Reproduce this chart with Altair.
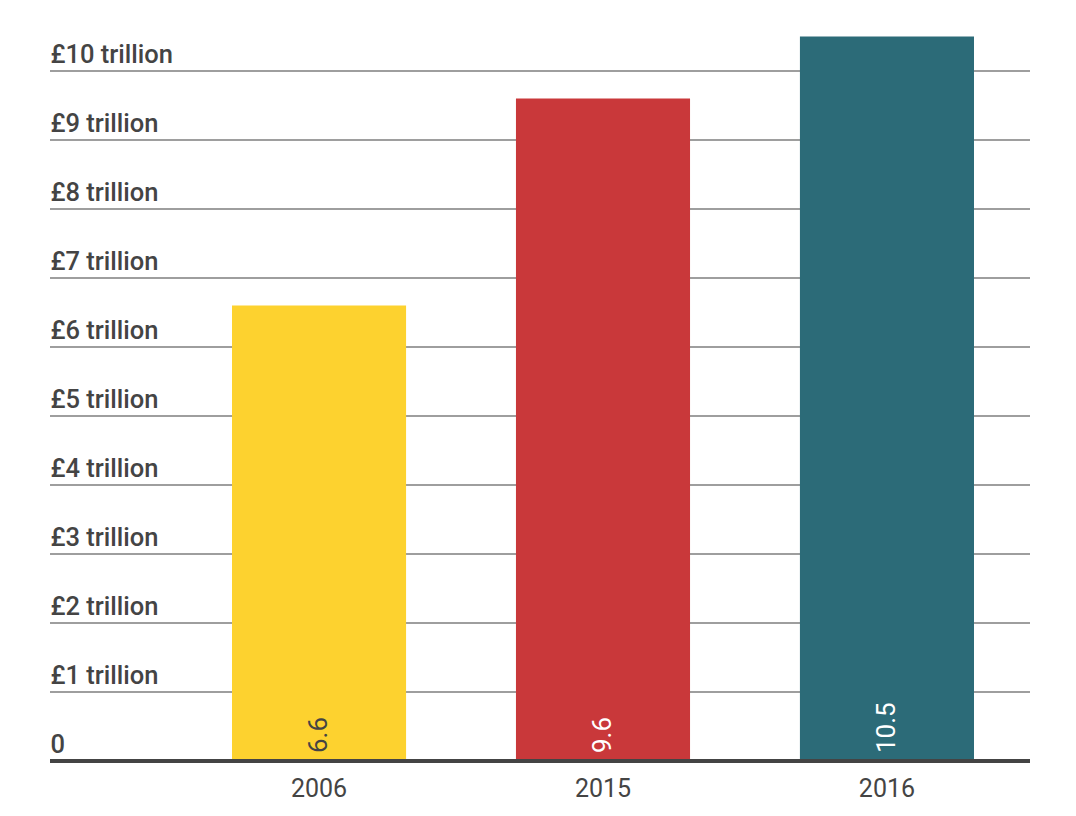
import altair as alt
import pandas as pd

years = ["2006", "2015", "2016"]
values = [6.6, 9.6, 10.5]
labels = ["6.6", "9.6", "10.5"]
colors = ["#FDD22F", "#C9383A", "#2C6B78"]
label_colors = ["#444444", "#FFFFFF", "#FFFFFF"]
ticks = list(range(1, 11))

df = pd.DataFrame({"year": years, "value": values, "label": labels,
                   "color": colors, "lcolor": label_colors, "base": [0, 0, 0]})
grid_df = pd.DataFrame({"t": ticks})

FONT = "Roboto"

x_scale = alt.Scale(domain=years, range=[182, 924], paddingInner=0.387, paddingOuter=0)
y_scale = alt.Scale(domain=[0, 10.5], nice=False)

grid = alt.Chart(grid_df).mark_rule(color="#9E9E9E", strokeWidth=2).encode(
    y=alt.Y("t:Q", scale=y_scale,
            axis=alt.Axis(title=None, values=[0] + ticks, ticks=False, domain=False, grid=False,
                          labelAlign="left", labelBaseline="alphabetic",
                          labelOffset=-9, labelPadding=0,
                          labelFontSize=25.5, labelFontWeight=500, labelFont=FONT,
                          labelColor="#444444",
                          labelExpr="datum.value == 0 ? '0' : '£' + datum.value + ' trillion'")),
    x=alt.value(0),
    x2=alt.value(980),
)

bars = alt.Chart(df).mark_bar().encode(
    x=alt.X("year:N", sort=years, scale=x_scale,
            axis=alt.Axis(title=None, labelAngle=0, ticks=False, domain=False,
                          labelPadding=15, labelFontSize=25, labelColor="#444444",
                          labelFont=FONT, labelBaseline="top", grid=False)),
    y=alt.Y("value:Q", scale=y_scale),
    color=alt.Color("color:N", scale=None),
)

text = alt.Chart(df).mark_text(angle=270, align="left", baseline="middle",
                               dx=8, fontSize=26, font=FONT).encode(
    x=alt.X("year:N", sort=years, scale=x_scale),
    y=alt.Y("base:Q", scale=y_scale),
    text="label:N",
    color=alt.Color("lcolor:N", scale=None),
)

base_line = alt.Chart(df).mark_rule(color="#444444", strokeWidth=4).encode(
    y=alt.datum(0, scale=y_scale) if False else alt.Y("base:Q", scale=y_scale),
    x=alt.value(0),
    x2=alt.value(980),
)

chart = alt.layer(grid, bars, text, base_line).properties(
    width=980, height=724.5,
    padding={"left": 42, "top": 28.5, "right": 38, "bottom": 50},
    autosize=alt.AutoSizeParams(type="none"),
).configure_view(stroke=None)

chart.save("out.html", embed_options={"renderer": "svg", "actions": False})
